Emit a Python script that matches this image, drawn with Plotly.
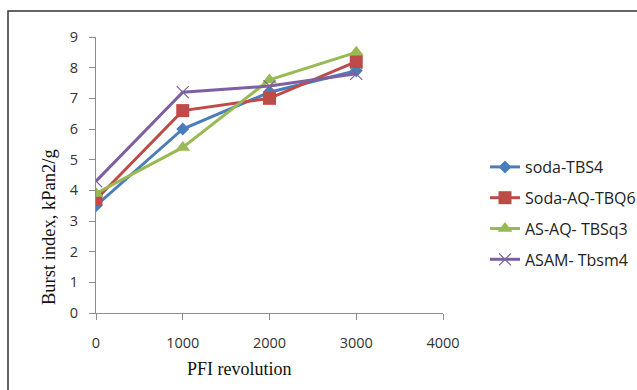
import plotly.graph_objects as go

x_vals = [0, 1000, 2000, 3000]
soda_tbs4 = [3.5, 6.0, 7.2, 7.9]
soda_aq_tbq6 = [3.7, 6.6, 7.0, 8.2]
as_aq_tbsq3 = [3.9, 5.4, 7.6, 8.5]
asam_tbsm4 = [4.3, 7.2, 7.4, 7.8]

series_names = ["soda-TBS4", "Soda-AQ-TBQ6", "AS-AQ- TBSq3", "ASAM- Tbsm4"]
series_vals = [soda_tbs4, soda_aq_tbq6, as_aq_tbsq3, asam_tbsm4]
colors = ["#4A7EBB", "#BE4B48", "#98B954", "#7D60A0"]
symbols = ["diamond", "square", "triangle-up", "x-thin"]
sizes = [10, 13, 13, 12]

fig = go.Figure()
for i, (name, vals) in enumerate(zip(series_names, series_vals)):
    marker = dict(symbol=symbols[i], size=sizes[i], color=colors[i])
    if symbols[i] == "x-thin":
        marker["line"] = dict(color=colors[i], width=1.2)
    fig.add_trace(go.Scatter(
        x=x_vals, y=vals, name=name, mode="lines+markers",
        line=dict(color=colors[i], width=3),
        marker=marker, legendgroup=f"g{i}",
    ))

L, R, T, B = 96, 194, 37, 77
W, H = 637, 390
pw, ph = W - L - R, H - T - B

axis_common = dict(
    showgrid=False, zeroline=False, showline=True, linecolor="#8C8C8C", linewidth=1,
    ticks="outside", ticklen=6, tickcolor="#8C8C8C",
    tickfont=dict(family="Open Sans", size=14.5, color="#333333"),
)
fig.update_xaxes(range=[0, 4000], tickvals=[0, 1000, 2000, 3000, 4000],
                 ticklabelstandoff=11, **axis_common)
fig.update_yaxes(range=[0, 9], tickvals=list(range(10)),
                 ticklabelstandoff=8, **axis_common)

fig.update_layout(
    width=W, height=H,
    margin=dict(l=L, r=R, t=T, b=B, autoexpand=False),
    paper_bgcolor="white", plot_bgcolor="white",
    showlegend=True,
    legend=dict(
        x=(485 - L) / pw, y=(313 - 150) / ph, xanchor="left", yanchor="top",
        font=dict(family="Open Sans", size=16, color="#222222"),
        tracegroupgap=7, bgcolor="rgba(0,0,0,0)",
    ),
    annotations=[
        dict(text="PFI revolution", xref="paper", yref="paper",
             x=(239 - L) / pw, y=(313 - 369) / ph, xanchor="center", yanchor="middle",
             showarrow=False, font=dict(family="Liberation Serif", size=18, color="#111111")),
        dict(text="Burst index, kPan2/g", xref="paper", yref="paper",
             x=(49 - L) / pw, y=(313 - 227) / ph, xanchor="center", yanchor="middle",
             textangle=-90, showarrow=False,
             font=dict(family="Liberation Serif", size=18.5, color="#111111")),
    ],
    shapes=[
        dict(type="rect", xref="paper", yref="paper",
             x0=(8 - L) / pw, x1=(660 - L) / pw, y0=(313 - 410) / ph, y1=(313 - 11) / ph,
             line=dict(color="#333333", width=1.5), fillcolor="rgba(0,0,0,0)"),
    ],
)

fig.write_html("out.html")
